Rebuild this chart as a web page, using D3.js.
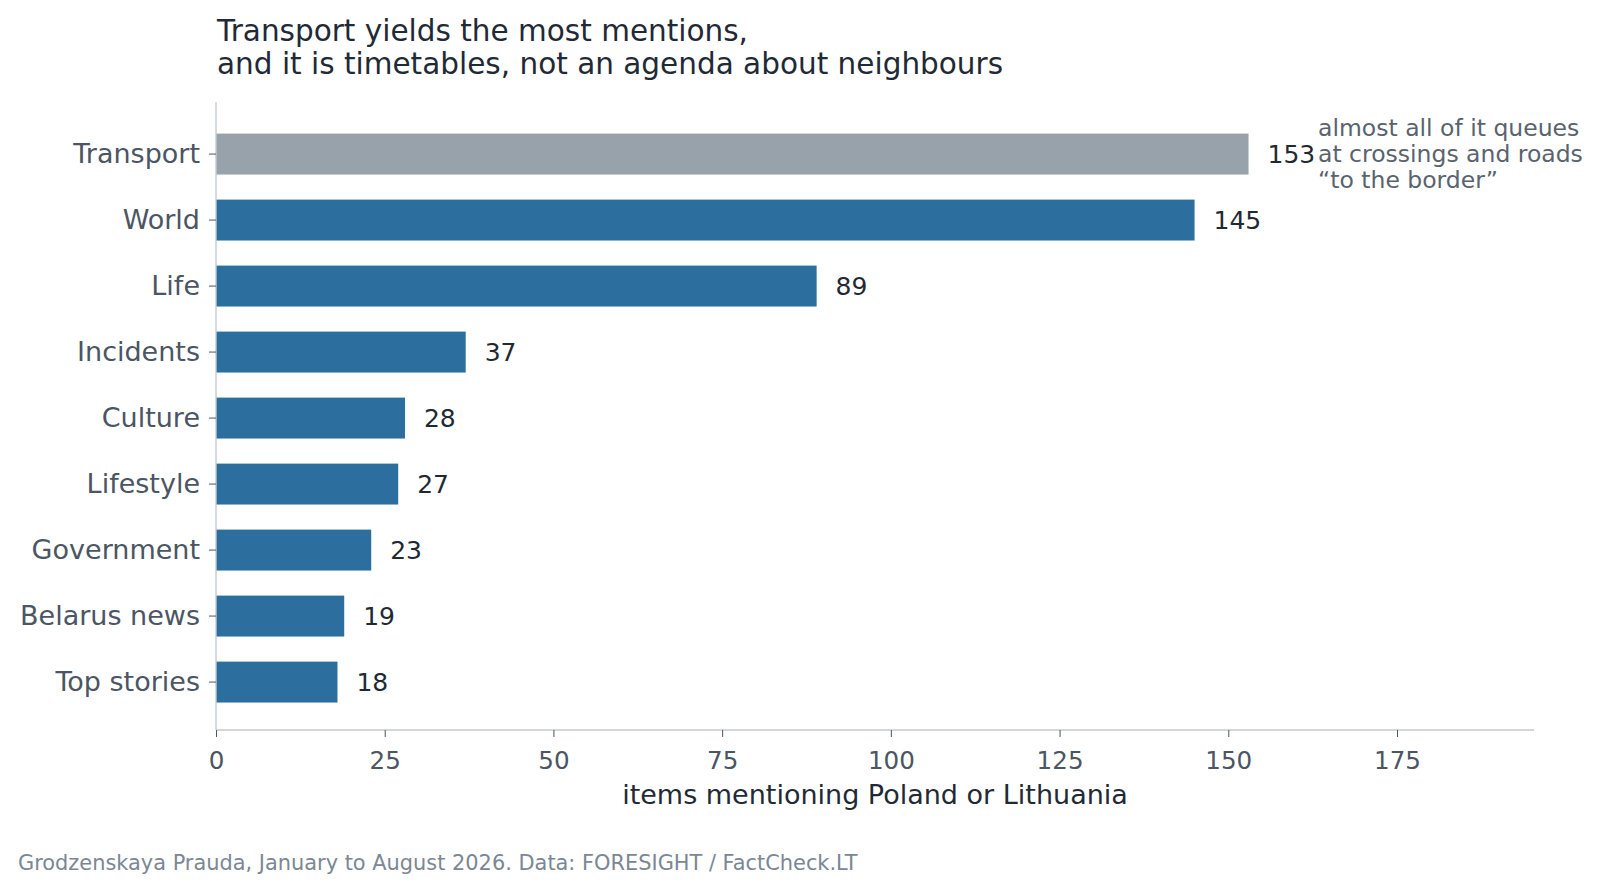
<!DOCTYPE html>
<html>
<head>
<meta charset="utf-8">
<script src="https://cdn.jsdelivr.net/npm/d3@7"></script>
<style>
  body { margin: 0; background: #fff; }
  svg { display: block; font-family: "DejaVu Sans", sans-serif; }
</style>
</head>
<body>
<svg width="1600" height="892"></svg>
<script>
var width = 1600;
var height = 892;
var margin = {left: 216, right: 66, top: 102, bottom: 162};

var categories = ["Transport", "World", "Life", "Incidents", "Culture", "Lifestyle", "Government", "Belarus news", "Top stories"];
var mentions = [153, 145, 89, 37, 28, 27, 23, 19, 18];
var xTicks = [0, 25, 50, 75, 100, 125, 150, 175];
var titleLines = ["Transport yields the most mentions,", "and it is timetables, not an agenda about neighbours"];
var noteLines = ["almost all of it queues", "at crossings and roads", "\u201cto the border\u201d"];

var rows = categories.map(function(c, i) { return {cat: c, value: mentions[i]}; });

var svg = d3.select('svg');

var xScale = d3.scaleLinear().domain([0, 195.3]).range([margin.left, width - margin.right]);
var yScale = d3.scaleBand().domain(categories)
  .range([margin.top, height - margin.bottom])
  .paddingInner(0.38).paddingOuter(0.4475).align(0.535);

// title
svg.append("text")
  .attr("x", 217).attr("y", 40.5)
  .style("font-size", "29.5px").style("fill", "#1f2a36")
  .selectAll("tspan").data(titleLines).enter().append("tspan")
  .attr("x", 217).attr("dy", function(d, i) { return i ? 33 : 0; })
  .text(function(d) { return d; });

// bars
svg.selectAll("rect.bar")
  .data(rows)
  .enter()
  .append("rect")
  .attr("class", "bar")
  .attr("x", xScale(0))
  .attr("y", function(d) { return yScale(d.cat); })
  .attr("width", function(d) { return xScale(d.value) - xScale(0); })
  .attr("height", yScale.bandwidth())
  .attr("fill", function(d, i) { return i == 0 ? "#98a2aa" : "#2c6e9d"; });

// value labels
svg.selectAll("text.val")
  .data(rows)
  .enter()
  .append("text")
  .attr("class", "val")
  .attr("x", function(d) { return xScale(d.value) + 19; })
  .attr("y", function(d) { return yScale(d.cat) + yScale.bandwidth() / 2; })
  .attr("dy", "0.36em")
  .style("font-size", "25px")
  .style("fill", "#1f2933")
  .text(function(d) { return d.value; });

// annotation on the top bar
var noteY = yScale(categories[0]) + yScale.bandwidth() / 2;
svg.append("text")
  .style("font-size", "23.5px").style("fill", "#59636e")
  .selectAll("tspan").data(noteLines).enter().append("tspan")
  .attr("x", xScale(mentions[0] + 10.3))
  .attr("y", function(d, i) { return noteY - 1 + (i - 1) * 26; })
  .attr("dy", "0.36em")
  .text(function(d) { return d; });

// axes
var axisBottom = d3.axisBottom(xScale).tickValues(xTicks).tickSize(7).tickPadding(15);
var axisLeft = d3.axisLeft(yScale).tickSize(7).tickPadding(9);

var gx = svg.append('g')
  .attr("transform", "translate(0," + (height - margin.bottom) + ")")
  .call(axisBottom);
gx.select(".domain").attr("stroke", "#c4cad1").attr("stroke-width", 1.4)
  .attr("d", "M" + xScale(0) + ",0H" + (width - margin.right));
gx.selectAll(".tick line").attr("stroke", "#4b5563");
gx.selectAll(".tick text").style("font-size", "24.6px").style("fill", "#4b5563").style("font-family", "DejaVu Sans");

var gy = svg.append('g')
  .attr("transform", "translate(" + margin.left + ",0)")
  .call(axisLeft);
gy.select(".domain").attr("stroke", "#c4cad1").attr("stroke-width", 1.4)
  .attr("d", "M0," + margin.top + "V" + (height - margin.bottom));
gy.selectAll(".tick line").attr("stroke", "#4b5563");
gy.selectAll(".tick text").style("font-size", "27px").style("fill", "#4b5563").style("font-family", "DejaVu Sans");

// x axis label
svg.append("text")
  .attr("x", (xScale(0) + width - margin.right) / 2)
  .attr("y", 804)
  .style("text-anchor", "middle")
  .style("font-size", "27px").style("fill", "#1f2a36")
  .text("items mentioning Poland or Lithuania");

// footnote
svg.append("text")
  .attr("x", 18).attr("y", 870)
  .style("font-size", "20.9px").style("fill", "#7b8794")
  .text("Grodzenskaya Prauda, January to August 2026. Data: FORESIGHT / FactCheck.LT");
</script>
</body>
</html>
